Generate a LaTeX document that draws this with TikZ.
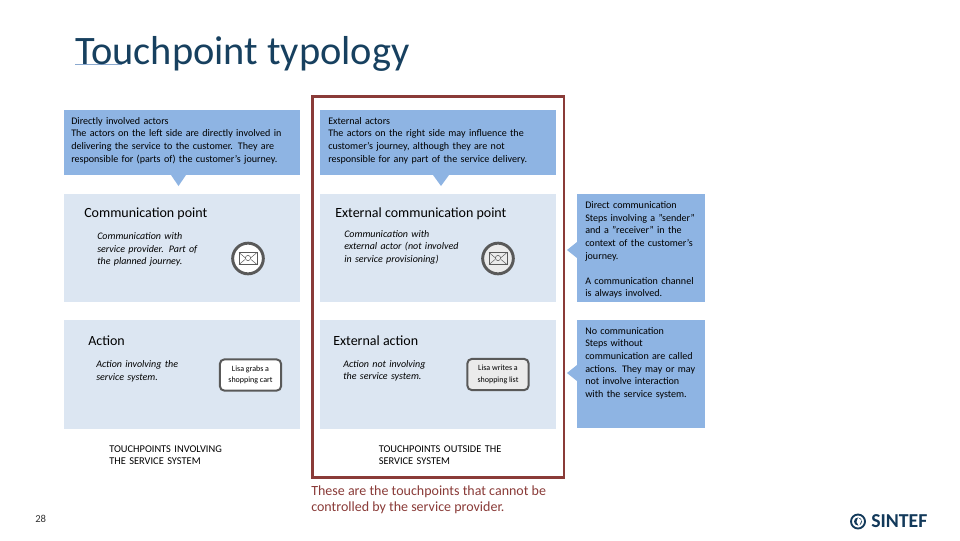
\documentclass[tikz,border=0pt]{standalone}
\usepackage{fontspec}
\setmainfont{Carlito}
\usetikzlibrary{positioning}
\definecolor{callblue}{HTML}{8EB4E3}
\definecolor{panel}{HTML}{DCE6F2}
\definecolor{framered}{HTML}{8A3B38}
\definecolor{titleblue}{HTML}{17405F}
\definecolor{iconedge}{HTML}{595959}
\definecolor{logoblue}{HTML}{12395A}
\tikzset{
 x=0.75pt,y=-0.75pt,
 call/.style={fill=callblue,draw=none},
 panelbox/.style={fill=panel,draw=none},
 calltext/.style={anchor=north west,inner sep=0pt,align=left,font=\fontsize{7.55}{9.45}\selectfont,text=black,text width=#1},
 heading/.style={anchor=west,inner sep=0pt,font=\fontsize{10.5}{12}\selectfont},
 desc/.style={anchor=north west,inner sep=0pt,align=left,font=\fontsize{7.5}{9.3}\selectfont\itshape,text width=#1},
 capt/.style={anchor=north west,inner sep=0pt,align=left,font=\fontsize{7.8}{9}\selectfont,text width=110pt},
 iconring/.style={circle,draw=iconedge,line width=2.2pt,fill=#1,minimum size=23pt,inner sep=0pt},
 stepnote/.style={rectangle,rounded corners=3.5pt,draw=iconedge,line width=1.5pt,fill=#1,minimum width=46pt,minimum height=23.5pt,inner sep=0pt,align=center,font=\fontsize{6}{8.6}\selectfont},
}
\newcommand{\envelope}[1]{%
 \begin{scope}[shift={(#1)}]
  \draw[iconedge,line width=0.5pt] (-9,-6) rectangle (9,6);
  \draw[iconedge,line width=0.35pt] (-9,-6) -- (-2.5,-0.5) (9,-6) -- (2.5,-0.5) (-9,6) -- (-3,1) (9,6) -- (3,1);
  \draw[iconedge,line width=0.4pt] (0,-0.5) circle (2.6);
 \end{scope}}
\begin{document}
\begin{tikzpicture}
\useasboundingbox (0,0) rectangle (960,540);
\fill[white] (0,0) rectangle (960,540);
% title
\coordinate (ulL) at (75,64); \coordinate (ulR) at (122,64);
\draw[color=callblue!80!gray,line width=0.5pt] (ulL) -- (ulR);
\node[anchor=west,inner sep=0pt,text=titleblue,font=\fontsize{30.3}{33}\selectfont] (title) at (75,54) {Touchpoint typology};
% panels
\fill[panelbox] (64,194) rectangle (300,302);
\fill[panelbox] (320,194) rectangle (556,302);
\fill[panelbox] (64,320) rectangle (300,429);
\fill[panelbox] (320,320) rectangle (556,429);
% top callouts
\fill[call] (64,110) rectangle (300,175);
\fill[call] (171,175) -- (186,175) -- (178.5,186) -- cycle;
\fill[call] (320,110) rectangle (556,175);
\fill[call] (433,175) -- (449,175) -- (441,186) -- cycle;
\node[calltext=175pt] (ta) at (71,117) {Directly involved actors\\The actors on the left side are directly involved in\\delivering the service to the customer. They are\\responsible for (parts of) the customer's journey.};
\node[calltext=175pt] (tb) at (328,117) {External actors\\The actors on the right side may influence the\\customer's journey, although they are not\\responsible for any part of the service delivery.};
% right callouts
\fill[call] (577,194) rectangle (705,302);
\fill[call] (577,242) -- (567,250) -- (577,258) -- cycle;
\fill[call] (577,320) rectangle (705,428);
\fill[call] (577,365) -- (567,373) -- (577,381) -- cycle;
\node[calltext=92pt] (tc) at (585,201.5) {Direct communication\\Steps involving a "sender"\\and a "receiver" in the\\context of the customer's\\journey.\\[9.45pt]A communication channel\\is always involved.};
\node[calltext=92pt] (td) at (585,327) {No communication\\Steps without\\communication are called\\actions. They may or may\\not involve interaction\\with the service system.};
% headings
\node[heading] (h1) at (84,214) {Communication point};
\node[heading] (h2) at (335,214) {External communication point};
\node[heading] (h3) at (88,341) {Action};
\node[heading] (h4) at (333,341) {External action};
% descriptions
\node[desc=90pt] (d1) at (97,232.5) {Communication with\\service provider. Part of\\the planned journey.};
\node[desc=95pt] (d2) at (344,230) {Communication with\\external actor (not involved\\in service provisioning)};
\node[desc=70pt] (d3) at (96,360.5) {Action involving the\\service system.};
\node[desc=80pt] (d4) at (343,360) {Action not involving\\the service system.};
% icons
\node[iconring=white] (i1) at (248,258.5) {};
\envelope{248,258.5}
\node[iconring=white!92!black] (i2) at (498,258.5) {};
\envelope{498,258.5}
\node[stepnote=white] (s1) at (250.5,375) {Lisa grabs a\\shopping cart};
\node[stepnote=white!92!black] (s2) at (498,374.5) {Lisa writes a\\shopping list};
% captions
\node[capt] (c1) at (109,445) {TOUCHPOINTS INVOLVING\\THE SERVICE SYSTEM};
\node[capt] (c2) at (378.5,445) {TOUCHPOINTS OUTSIDE THE\\SERVICE SYSTEM};
% frame
\draw[framered,line width=1.9pt] (312.5,96.5) rectangle (564,477.5);
% note
\node[anchor=north west,inner sep=0pt,align=left,text=framered,font=\fontsize{10.5}{12}\selectfont] (note) at (311,486) {These are the touchpoints that cannot be\\controlled by the service provider.};
\node[anchor=west,inner sep=0pt,font=\fontsize{8}{9}\selectfont,text=black!80] (pg) at (35,519) {28};
% logo
\draw[logoblue,line width=1.4pt] (858,521.5) circle (7);
\fill[logoblue] (858,521.5) circle (4);
\fill[white] (858,517.5) -- (861.5,520.5) -- (859,526) -- (856.5,522) -- cycle;
\node[anchor=west,inner sep=0pt,text=logoblue,font=\fontsize{14.8}{15}\bfseries\selectfont] (logo) at (871,521.5) {SINTEF};
\end{tikzpicture}
\end{document}
